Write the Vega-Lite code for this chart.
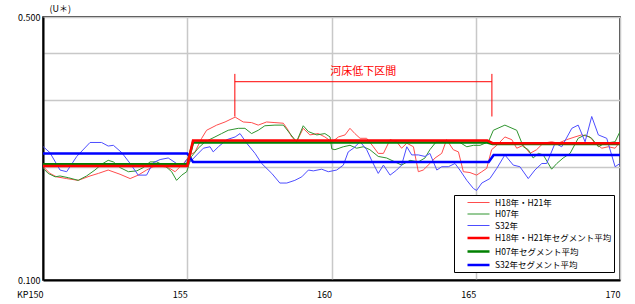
{
 "$schema": "https://vega.github.io/schema/vega-lite/v6.json",
 "width": 577,
 "height": 263,
 "autosize": {"type": "none"},
 "padding": {"left": 43, "top": 17, "right": 15, "bottom": 24},
 "config": {
  "font": "Noto Sans CJK JP",
  "view": {"stroke": "black", "strokeWidth": 1.5},
  "axis": {"labelFont": "Noto Sans CJK JP", "labelColor": "black", "labelFontSize": 9, "ticks": false, "gridColor": "#c8c8c8", "gridWidth": 1.5, "gridOpacity": 1, "domainColor": "black", "domainWidth": 2},
  "legend": {"orient": "none", "legendX": 411, "legendY": 178, "strokeColor": "black", "fillColor": "white", "padding": 2, "symbolOffset": 16, "symbolType": "M-2.2,0H2.2", "symbolSize": 100, "labelFontSize": 8.5, "labelFont": "Noto Sans CJK JP", "labelOffset": 10, "rowPadding": 1.5, "labelColor": "black"}
 },
 "datasets": {
  "lines": [
   {"s":"H18年・H21年","x":150.01,"y":0.200},{"s":"H18年・H21年","x":150.24,"y":0.192},{"s":"H18年・H21年","x":150.47,"y":0.188},{"s":"H18年・H21年","x":150.82,"y":0.186},{"s":"H18年・H21年","x":151.22,"y":0.184},{"s":"H18年・H21年","x":151.63,"y":0.189},{"s":"H18年・H21年","x":151.92,"y":0.192},{"s":"H18年・H21年","x":152.26,"y":0.196},{"s":"H18年・H21年","x":152.67,"y":0.191},{"s":"H18年・H21年","x":153.02,"y":0.186},{"s":"H18年・H21年","x":153.30,"y":0.190},{"s":"H18年・H21年","x":153.59,"y":0.196},{"s":"H18年・H21年","x":153.82,"y":0.200},{"s":"H18年・H21年","x":154.06,"y":0.201},{"s":"H18年・H21年","x":154.34,"y":0.199},{"s":"H18年・H21年","x":154.58,"y":0.194},{"s":"H18年・H21年","x":154.75,"y":0.200},{"s":"H18年・H21年","x":154.92,"y":0.206},{"s":"H18年・H21年","x":155.10,"y":0.215},{"s":"H18年・H21年","x":155.27,"y":0.219},{"s":"H18年・H21年","x":155.50,"y":0.238},{"s":"H18年・H21年","x":155.67,"y":0.250},{"s":"H18年・H21年","x":156.02,"y":0.258},{"s":"H18年・H21年","x":156.31,"y":0.263},{"s":"H18年・H21年","x":156.66,"y":0.271},{"s":"H18年・H21年","x":156.94,"y":0.263},{"s":"H18年・H21年","x":157.23,"y":0.262},{"s":"H18年・H21年","x":157.46,"y":0.258},{"s":"H18年・H21年","x":157.75,"y":0.263},{"s":"H18年・H21年","x":158.04,"y":0.262},{"s":"H18年・H21年","x":158.33,"y":0.261},{"s":"H18年・H21年","x":158.50,"y":0.250},{"s":"H18年・H21年","x":158.62,"y":0.240},{"s":"H18年・H21年","x":158.79,"y":0.233},{"s":"H18年・H21年","x":159.02,"y":0.253},{"s":"H18年・H21年","x":159.25,"y":0.243},{"s":"H18年・H21年","x":159.54,"y":0.245},{"s":"H18年・H21年","x":159.77,"y":0.240},{"s":"H18年・H21年","x":160.01,"y":0.233},{"s":"H18年・H21年","x":160.12,"y":0.236},{"s":"H18年・H21年","x":160.24,"y":0.240},{"s":"H18年・H21年","x":160.47,"y":0.243},{"s":"H18年・H21年","x":160.64,"y":0.253},{"s":"H18年・H21年","x":160.81,"y":0.245},{"s":"H18年・H21年","x":160.99,"y":0.238},{"s":"H18年・H21年","x":161.22,"y":0.238},{"s":"H18年・H21年","x":161.45,"y":0.226},{"s":"H18年・H21年","x":161.62,"y":0.217},{"s":"H18年・H21年","x":161.80,"y":0.217},{"s":"H18年・H21年","x":162.03,"y":0.236},{"s":"H18年・H21年","x":162.26,"y":0.233},{"s":"H18年・H21年","x":162.43,"y":0.224},{"s":"H18年・H21年","x":162.61,"y":0.231},{"s":"H18年・H21年","x":162.84,"y":0.226},{"s":"H18年・H21年","x":163.01,"y":0.194},{"s":"H18年・H21年","x":163.18,"y":0.196},{"s":"H18年・H21年","x":163.41,"y":0.204},{"s":"H18年・H21年","x":163.59,"y":0.211},{"s":"H18年・H21年","x":163.82,"y":0.217},{"s":"H18年・H21年","x":163.99,"y":0.236},{"s":"H18年・H21年","x":164.22,"y":0.222},{"s":"H18年・H21年","x":164.40,"y":0.219},{"s":"H18年・H21年","x":164.57,"y":0.194},{"s":"H18年・H21年","x":164.80,"y":0.193},{"s":"H18年・H21年","x":165.03,"y":0.190},{"s":"H18年・H21年","x":165.21,"y":0.194},{"s":"H18年・H21年","x":165.38,"y":0.198},{"s":"H18年・H21年","x":165.55,"y":0.222},{"s":"H18年・H21年","x":165.73,"y":0.228},{"s":"H18年・H21年","x":166.01,"y":0.240},{"s":"H18年・H21年","x":166.25,"y":0.236},{"s":"H18年・H21年","x":166.42,"y":0.224},{"s":"H18年・H21年","x":166.65,"y":0.228},{"s":"H18年・H21年","x":166.88,"y":0.217},{"s":"H18年・H21年","x":167.11,"y":0.222},{"s":"H18年・H21年","x":167.34,"y":0.231},{"s":"H18年・H21年","x":167.63,"y":0.233},{"s":"H18年・H21年","x":167.86,"y":0.231},{"s":"H18年・H21年","x":168.15,"y":0.236},{"s":"H18年・H21年","x":168.44,"y":0.240},{"s":"H18年・H21年","x":168.67,"y":0.243},{"s":"H18年・H21年","x":168.96,"y":0.240},{"s":"H18年・H21年","x":169.13,"y":0.231},{"s":"H18年・H21年","x":169.37,"y":0.224},{"s":"H18年・H21年","x":169.59,"y":0.226},{"s":"H18年・H21年","x":169.83,"y":0.224},{"s":"H18年・H21年","x":170.00,"y":0.233},
   {"s":"H07年","x":150.01,"y":0.198},{"s":"H07年","x":150.18,"y":0.192},{"s":"H07年","x":150.42,"y":0.188},{"s":"H07年","x":150.59,"y":0.189},{"s":"H07年","x":150.88,"y":0.187},{"s":"H07年","x":151.22,"y":0.184},{"s":"H07年","x":151.51,"y":0.189},{"s":"H07年","x":151.80,"y":0.196},{"s":"H07年","x":152.03,"y":0.203},{"s":"H07年","x":152.26,"y":0.208},{"s":"H07年","x":152.44,"y":0.206},{"s":"H07年","x":152.67,"y":0.199},{"s":"H07年","x":152.96,"y":0.194},{"s":"H07年","x":153.25,"y":0.195},{"s":"H07年","x":153.48,"y":0.199},{"s":"H07年","x":153.71,"y":0.206},{"s":"H07年","x":153.94,"y":0.206},{"s":"H07年","x":154.23,"y":0.201},{"s":"H07年","x":154.46,"y":0.194},{"s":"H07年","x":154.63,"y":0.184},{"s":"H07年","x":154.81,"y":0.190},{"s":"H07年","x":154.98,"y":0.194},{"s":"H07年","x":155.15,"y":0.213},{"s":"H07年","x":155.38,"y":0.224},{"s":"H07年","x":155.62,"y":0.233},{"s":"H07年","x":155.96,"y":0.240},{"s":"H07年","x":156.19,"y":0.245},{"s":"H07年","x":156.42,"y":0.250},{"s":"H07年","x":156.77,"y":0.253},{"s":"H07年","x":157.00,"y":0.253},{"s":"H07年","x":157.23,"y":0.245},{"s":"H07年","x":157.46,"y":0.250},{"s":"H07年","x":157.69,"y":0.257},{"s":"H07年","x":158.04,"y":0.258},{"s":"H07年","x":158.33,"y":0.258},{"s":"H07年","x":158.56,"y":0.245},{"s":"H07年","x":158.79,"y":0.233},{"s":"H07年","x":159.02,"y":0.257},{"s":"H07年","x":159.20,"y":0.248},{"s":"H07年","x":159.49,"y":0.243},{"s":"H07年","x":159.77,"y":0.245},{"s":"H07年","x":159.95,"y":0.240},{"s":"H07年","x":160.01,"y":0.223},{"s":"H07年","x":160.12,"y":0.222},{"s":"H07年","x":160.41,"y":0.226},{"s":"H07年","x":160.64,"y":0.228},{"s":"H07年","x":160.87,"y":0.224},{"s":"H07年","x":161.10,"y":0.226},{"s":"H07年","x":161.33,"y":0.222},{"s":"H07年","x":161.62,"y":0.213},{"s":"H07年","x":161.91,"y":0.211},{"s":"H07年","x":162.20,"y":0.206},{"s":"H07年","x":162.43,"y":0.202},{"s":"H07年","x":162.72,"y":0.208},{"s":"H07年","x":163.01,"y":0.206},{"s":"H07年","x":163.24,"y":0.211},{"s":"H07年","x":163.41,"y":0.222},{"s":"H07年","x":163.65,"y":0.234},{"s":"H07年","x":163.93,"y":0.233},{"s":"H07年","x":164.22,"y":0.233},{"s":"H07年","x":164.45,"y":0.232},{"s":"H07年","x":164.69,"y":0.226},{"s":"H07年","x":164.92,"y":0.228},{"s":"H07年","x":165.15,"y":0.228},{"s":"H07年","x":165.44,"y":0.233},{"s":"H07年","x":165.61,"y":0.250},{"s":"H07年","x":166.01,"y":0.258},{"s":"H07年","x":166.42,"y":0.250},{"s":"H07年","x":166.65,"y":0.226},{"s":"H07年","x":166.82,"y":0.222},{"s":"H07年","x":166.99,"y":0.211},{"s":"H07年","x":167.17,"y":0.217},{"s":"H07年","x":167.34,"y":0.215},{"s":"H07年","x":167.63,"y":0.197},{"s":"H07年","x":167.81,"y":0.204},{"s":"H07年","x":168.03,"y":0.211},{"s":"H07年","x":168.27,"y":0.217},{"s":"H07年","x":168.55,"y":0.238},{"s":"H07年","x":168.79,"y":0.243},{"s":"H07年","x":169.02,"y":0.238},{"s":"H07年","x":169.25,"y":0.226},{"s":"H07年","x":169.48,"y":0.231},{"s":"H07年","x":169.83,"y":0.233},{"s":"H07年","x":170.00,"y":0.248},
   {"s":"S32年","x":150.01,"y":0.226},{"s":"S32年","x":150.24,"y":0.218},{"s":"S32年","x":150.59,"y":0.196},{"s":"S32年","x":150.82,"y":0.194},{"s":"S32年","x":151.17,"y":0.213},{"s":"S32年","x":151.63,"y":0.232},{"s":"S32年","x":152.03,"y":0.232},{"s":"S32年","x":152.26,"y":0.227},{"s":"S32年","x":152.44,"y":0.228},{"s":"S32年","x":152.73,"y":0.218},{"s":"S32年","x":153.02,"y":0.204},{"s":"S32年","x":153.30,"y":0.190},{"s":"S32年","x":153.59,"y":0.190},{"s":"S32年","x":153.82,"y":0.205},{"s":"S32年","x":154.06,"y":0.209},{"s":"S32年","x":154.34,"y":0.211},{"s":"S32年","x":154.63,"y":0.204},{"s":"S32年","x":154.86,"y":0.202},{"s":"S32年","x":154.98,"y":0.209},{"s":"S32年","x":155.10,"y":0.206},{"s":"S32年","x":155.33,"y":0.215},{"s":"S32年","x":155.56,"y":0.224},{"s":"S32年","x":155.79,"y":0.226},{"s":"S32年","x":155.90,"y":0.219},{"s":"S32年","x":156.08,"y":0.226},{"s":"S32年","x":156.37,"y":0.236},{"s":"S32年","x":156.66,"y":0.240},{"s":"S32年","x":156.83,"y":0.245},{"s":"S32年","x":157.06,"y":0.231},{"s":"S32年","x":157.35,"y":0.217},{"s":"S32年","x":157.58,"y":0.204},{"s":"S32年","x":157.93,"y":0.192},{"s":"S32年","x":158.21,"y":0.181},{"s":"S32年","x":158.45,"y":0.181},{"s":"S32年","x":158.73,"y":0.184},{"s":"S32年","x":158.97,"y":0.188},{"s":"S32年","x":159.20,"y":0.196},{"s":"S32年","x":159.37,"y":0.195},{"s":"S32年","x":159.66,"y":0.197},{"s":"S32年","x":159.89,"y":0.194},{"s":"S32年","x":160.18,"y":0.196},{"s":"S32年","x":160.41,"y":0.202},{"s":"S32年","x":160.58,"y":0.219},{"s":"S32年","x":160.76,"y":0.224},{"s":"S32年","x":160.99,"y":0.233},{"s":"S32年","x":161.22,"y":0.222},{"s":"S32年","x":161.39,"y":0.208},{"s":"S32年","x":161.62,"y":0.192},{"s":"S32年","x":161.80,"y":0.202},{"s":"S32年","x":162.03,"y":0.190},{"s":"S32年","x":162.26,"y":0.196},{"s":"S32年","x":162.43,"y":0.202},{"s":"S32年","x":162.61,"y":0.226},{"s":"S32年","x":162.78,"y":0.215},{"s":"S32年","x":163.01,"y":0.215},{"s":"S32年","x":163.24,"y":0.213},{"s":"S32年","x":163.41,"y":0.217},{"s":"S32年","x":163.65,"y":0.196},{"s":"S32年","x":163.82,"y":0.200},{"s":"S32年","x":164.05,"y":0.200},{"s":"S32年","x":164.28,"y":0.204},{"s":"S32年","x":164.45,"y":0.196},{"s":"S32年","x":164.69,"y":0.184},{"s":"S32年","x":164.92,"y":0.175},{"s":"S32年","x":165.03,"y":0.173},{"s":"S32年","x":165.21,"y":0.181},{"s":"S32年","x":165.49,"y":0.186},{"s":"S32年","x":165.73,"y":0.198},{"s":"S32年","x":166.01,"y":0.215},{"s":"S32年","x":166.30,"y":0.202},{"s":"S32年","x":166.53,"y":0.200},{"s":"S32年","x":166.82,"y":0.186},{"s":"S32年","x":167.05,"y":0.196},{"s":"S32年","x":167.29,"y":0.204},{"s":"S32年","x":167.46,"y":0.204},{"s":"S32年","x":167.75,"y":0.231},{"s":"S32年","x":167.98,"y":0.226},{"s":"S32年","x":168.33,"y":0.253},{"s":"S32年","x":168.55,"y":0.258},{"s":"S32年","x":168.79,"y":0.233},{"s":"S32年","x":169.02,"y":0.272},{"s":"S32年","x":169.25,"y":0.243},{"s":"S32年","x":169.54,"y":0.238},{"s":"S32年","x":169.83,"y":0.200},{"s":"S32年","x":170.00,"y":0.204},
   {"s":"S32年セグメント平均","x":150,"y":0.217},{"s":"S32年セグメント平均","x":155.0,"y":0.217},{"s":"S32年セグメント平均","x":155.2,"y":0.206},{"s":"S32年セグメント平均","x":165.45,"y":0.206},{"s":"S32年セグメント平均","x":165.62,"y":0.215},{"s":"S32年セグメント平均","x":170,"y":0.215},
   {"s":"H07年セグメント平均","x":150,"y":0.203},{"s":"H07年セグメント平均","x":155.0,"y":0.203},{"s":"H07年セグメント平均","x":155.2,"y":0.232},{"s":"H07年セグメント平均","x":165.4,"y":0.232},{"s":"H07年セグメント平均","x":165.58,"y":0.230},{"s":"H07年セグメント平均","x":170,"y":0.230},
   {"s":"H18年・H21年セグメント平均","x":150,"y":0.201},{"s":"H18年・H21年セグメント平均","x":155.0,"y":0.201},{"s":"H18年・H21年セグメント平均","x":155.2,"y":0.235},{"s":"H18年・H21年セグメント平均","x":165.4,"y":0.235},{"s":"H18年・H21年セグメント平均","x":165.58,"y":0.231},{"s":"H18年・H21年セグメント平均","x":170,"y":0.231}
  ],
  "vlines": [{"x": 156.65, "y": 0.272, "y2": 0.353}, {"x": 165.56, "y": 0.272, "y2": 0.353}],
  "hline": [{"x": 156.65, "x2": 165.56, "y": 0.3365}],
  "label": [{"x": 161.1, "y": 0.357, "t": "河床低下区間"}]
 },
 "layer": [
  {
   "data": {"name": "lines"},
   "mark": {"type": "line", "clip": true},
   "encoding": {
    "x": {"field": "x", "type": "quantitative", "scale": {"domain": [150, 170], "nice": false, "zero": false},
     "axis": {"values": [150, 155, 160, 165, 170], "title": null, "labelFlush": false, "labelPadding": 10, "labelAlign": "right", "labelExpr": "datum.value == 150 ? 'KP150' : datum.label", "encode": {"labels": {"update": {"dx": {"signal": "datum.value == 150 ? 8 : 0"}}}}}},
    "y": {"field": "y", "type": "quantitative", "scale": {"type": "log", "domain": [0.1, 0.5], "nice": false},
     "axis": {"values": [0.1, 0.2, 0.3, 0.4, 0.5], "labelExpr": "(datum.value < 0.15 || datum.value > 0.45) ? format(datum.value, '.3f') : ''", "title": "(U＊)", "titleAngle": 0, "titleAlign": "left", "titleBaseline": "bottom", "titleX": 6, "titleY": -4, "titleFontSize": 9, "titleFontWeight": "normal", "labelPadding": 3}},
    "color": {"field": "s", "type": "nominal",
     "scale": {"domain": ["H18年・H21年", "H07年", "S32年", "H18年・H21年セグメント平均", "H07年セグメント平均", "S32年セグメント平均"], "range": ["#ff4d4d", "#2f952f", "#4d4dff", "#ff0000", "#008000", "#0000ff"]},
     "legend": {"title": null, "encode": {"symbols": {"update": {"strokeWidth": {"signal": "indexof(datum.value, 'セグメント') >= 0 ? 3 : 1.3"}}}}}},
    "strokeWidth": {"field": "s", "type": "nominal", "legend": null,
     "scale": {"type": "ordinal", "domain": ["H18年・H21年", "H07年", "S32年", "H18年・H21年セグメント平均", "H07年セグメント平均", "S32年セグメント平均"], "range": [1, 1, 1, 2.5, 2.5, 2.5]}}
   }
  },
  {
   "data": {"name": "vlines"},
   "mark": {"type": "rule", "color": "#ff0000", "strokeWidth": 1},
   "encoding": {"x": {"field": "x", "type": "quantitative"}, "y": {"field": "y", "type": "quantitative"}, "y2": {"field": "y2"}}
  },
  {
   "data": {"name": "hline"},
   "mark": {"type": "rule", "color": "#ff0000", "strokeWidth": 1},
   "encoding": {"x": {"field": "x", "type": "quantitative"}, "x2": {"field": "x2"}, "y": {"field": "y", "type": "quantitative"}}
  },
  {
   "data": {"name": "label"},
   "mark": {"type": "text", "color": "#ff0000", "fontSize": 11, "baseline": "middle", "align": "center", "font": "Noto Sans CJK JP"},
   "encoding": {"x": {"field": "x", "type": "quantitative"}, "y": {"field": "y", "type": "quantitative"}, "text": {"field": "t"}}
  }
 ]
}
